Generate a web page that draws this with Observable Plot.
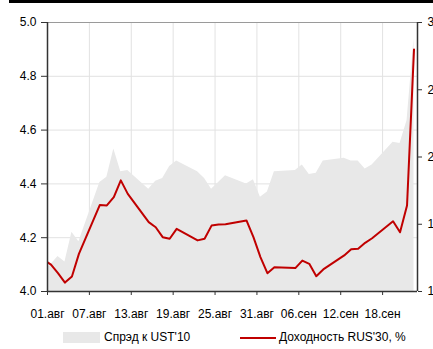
<!DOCTYPE html>
<html>
<head>
<meta charset="utf-8">
<script src="https://cdn.jsdelivr.net/npm/d3@7"></script>
<script src="https://cdn.jsdelivr.net/npm/@observablehq/plot@0.6"></script>
<style>
  html, body { margin: 0; padding: 0; background: #fff; overflow: hidden; }
  #wrap { position: relative; width: 433px; height: 349px; font-family: "Liberation Sans", Arial, sans-serif; font-size: 12px; color: #000; }
  #band { position: absolute; left: 9px; top: 0; width: 424px; height: 3px; background: #000; }
  #chart { position: absolute; left: 0; top: 0; }
  .lg { position: absolute; }
  .lgt { position: absolute; top: 330px; height: 15px; line-height: 15px; white-space: nowrap; }
</style>
</head>
<body>
<div id="wrap">
  <div id="chart"></div>
  <div id="band"></div>
  <div class="lg" style="left:63px;top:332px;width:37px;height:11px;background:#e8e8e8;"></div>
  <div class="lgt" id="lg1" style="left:104px;"></div>
  <div class="lg" style="left:240px;top:336.5px;width:36px;height:2px;background:#c00000;"></div>
  <div class="lgt" id="lg2" style="left:279px;"></div>
</div>
<script>
// ---- data ----
const dates = ["2011-07-29",
  "2011-08-01","2011-08-02","2011-08-03","2011-08-04","2011-08-05",
  "2011-08-08","2011-08-09","2011-08-10","2011-08-11","2011-08-12",
  "2011-08-15","2011-08-16","2011-08-17","2011-08-18","2011-08-19",
  "2011-08-22","2011-08-23","2011-08-24","2011-08-25","2011-08-26",
  "2011-08-29","2011-08-30","2011-08-31","2011-09-01","2011-09-02",
  "2011-09-05","2011-09-06","2011-09-07","2011-09-08","2011-09-09",
  "2011-09-12","2011-09-13","2011-09-14","2011-09-15","2011-09-16",
  "2011-09-19","2011-09-20","2011-09-21","2011-09-22"];
const yieldRUS30 = [4.15,
  4.100,4.068,4.033,4.056,4.140,
  4.322,4.320,4.351,4.413,4.363,
  4.258,4.239,4.202,4.196,4.233,
  4.190,4.196,4.245,4.249,4.250,
  4.264,4.202,4.128,4.068,4.090,
  4.087,4.115,4.103,4.057,4.082,
  4.134,4.157,4.159,4.181,4.198,
  4.261,4.220,4.320,4.900];
const spreadUST10 = [107,
  120,126,122,144,137,
  181,185,206,189,190,
  176,182,184,193,197,
  189,184,176,181,186,
  180,183,170,174,189,
  190,194,187,188,197,
  199,197,197,191,194,
  211,210,227,288];
const xTickDates = ["2011-08-01","2011-08-07","2011-08-13","2011-08-19","2011-08-25","2011-08-31","2011-09-06","2011-09-12","2011-09-18"];
const xTickLabels = ["01.авг","07.авг","13.авг","19.авг","25.авг","31.авг","06.сен","12.сен","18.сен"];
const yTicks = [4.0, 4.2, 4.4, 4.6, 4.8, 5.0];
const rightTicks = [100, 150, 200, 250, 300];
const rightTickLabels = ["1", "1", "2", "2", "3"];
const legendLabels = ["Спрэд к UST'10", "Доходность RUS'30, %"];

// ---- build ----
const toLeft = s => 4 + (s - 100) / 200;
const data = dates.map((d, i) => ({date: new Date(d + "T12:00:00Z"), y: yieldRUS30[i], s: spreadUST10[i]}));
const xTicks = xTickDates.map(d => new Date(d + "T00:00:00Z"));
const xLabelMap = new Map(xTicks.map((d, i) => [+d, xTickLabels[i]]));
const rightVals = rightTicks.map(toLeft);
const rightLabelMap = new Map(rightVals.map((v, i) => [v, rightTickLabels[i]]));
const x0 = new Date("2011-08-01T00:00:00Z"), x1 = new Date("2011-09-23T00:00:00Z");

const chart = Plot.plot({
  width: 433, height: 322,
  marginLeft: 47, marginRight: 16, marginTop: 22, marginBottom: 31,
  style: {fontFamily: "'Liberation Sans', Arial, sans-serif", fontSize: "12px", color: "#000", background: "transparent", overflow: "hidden"},
  x: {type: "utc", domain: [x0, x1]},
  y: {domain: [4, 5]},
  marks: [
    Plot.ruleY(yTicks, {stroke: "#e2e2e2", strokeWidth: 1}),
    Plot.ruleX(xTicks, {stroke: "#e2e2e2", strokeWidth: 1}),
    Plot.areaY(data, {x: "date", y1: 4, y2: d => toLeft(d.s), fill: "#e8e8e8", clip: true}),
    Plot.lineY(data, {x: "date", y: "y", stroke: "#c00000", strokeWidth: 2, clip: true}),
    Plot.ruleY([5], {stroke: "#9a9a9a", strokeWidth: 1.2}),
    Plot.ruleY([4], {stroke: "#333", strokeWidth: 1.3}),
    Plot.ruleX([x0, x1], {stroke: "#333", strokeWidth: 1.5}),
    Plot.axisY({ticks: yTicks, tickFormat: d3.format(".1f"), tickSize: 6, tickPadding: 5, label: null, stroke: "#333"}),
    Plot.axisY({ticks: rightVals, anchor: "right", tickFormat: d => rightLabelMap.get(d), tickSize: 4, tickPadding: 6, label: null, stroke: "#333"}),
    Plot.axisX({ticks: xTicks, tickFormat: d => xLabelMap.get(+d), tickSize: 4, tickPadding: 14, label: null, stroke: "#333"})
  ]
});
document.getElementById("chart").appendChild(chart);
document.getElementById("lg1").textContent = legendLabels[0];
document.getElementById("lg2").textContent = legendLabels[1];
</script>
</body>
</html>
